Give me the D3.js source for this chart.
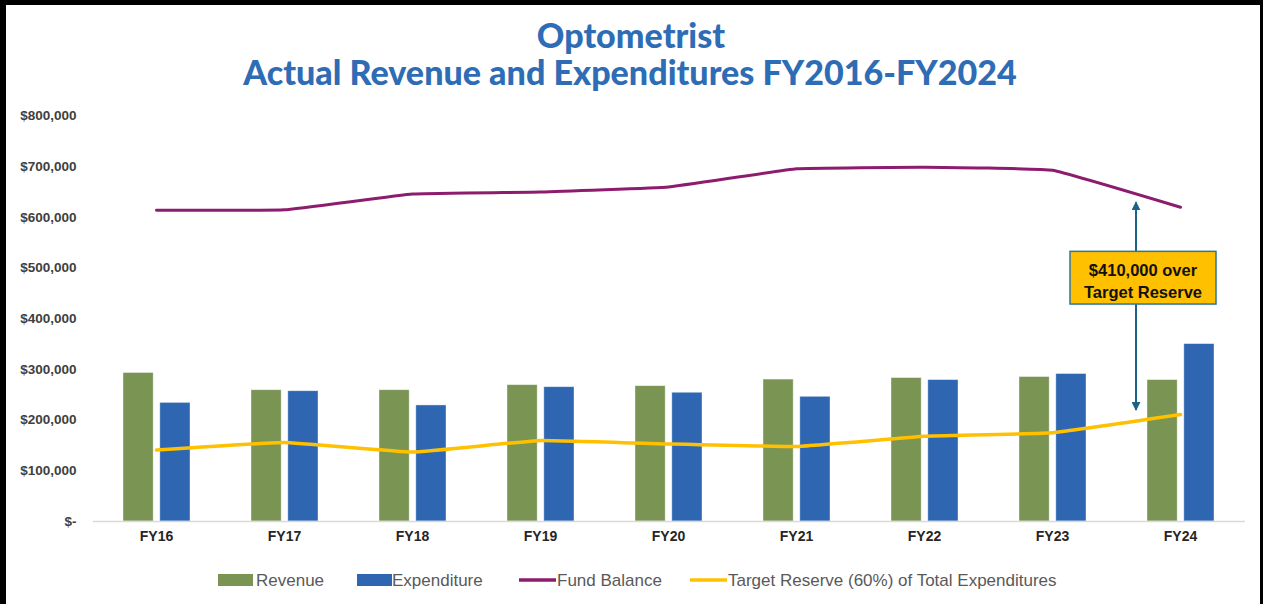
<!DOCTYPE html>
<html>
<head>
<meta charset="utf-8">
<script src="https://cdn.jsdelivr.net/npm/d3@7"></script>
<style>
  body { margin: 0; background: #000; overflow: hidden; }
  svg { display: block; }
</style>
</head>
<body>
<svg></svg>
<script>
// values
const years = ['FY16', 'FY17', 'FY18', 'FY19', 'FY20', 'FY21', 'FY22', 'FY23', 'FY24']
const revenue = [293000, 259000, 259000, 269000, 267000, 280000, 283000, 285000, 279000]
const expenditure = [234000, 257000, 229000, 265000, 254000, 246000, 279000, 291000, 350000]
const fundBalance = [613000, 614000, 645000, 649000, 659000, 695000, 698000, 692000, 619000]
const targetReserve = [140000, 155000, 136000, 159000, 152000, 147000, 167000, 174000, 210000]
const yTicks = [0, 100000, 200000, 300000, 400000, 500000, 600000, 700000, 800000]
const legendItems = ['Revenue', 'Expenditure', 'Fund Balance', 'Target Reserve (60%) of Total Expenditures']
const annotationLines = ['$410,000 over', 'Target Reserve']

const W = 1263, H = 604
const colors = {
    Revenue: '#7A9453',
    Expenditure: '#2E66B2',
    'Fund Balance': '#8E1C6E',
    'Target Reserve (60%) of Total Expenditures': '#FFC000'
}

const svg = d3.select('svg').attr('width', W).attr('height', H)

// black frame, white page
svg.append('rect').attr('width', W).attr('height', H).attr('fill', '#000')
svg.append('rect')
    .attr('x', 6).attr('y', 5)
    .attr('width', 1254).attr('height', H - 5)
    .attr('fill', '#fff')

const x = d3.scaleBand()
    .domain(years)
    .range([92.5, 1244.5])

const y = d3.scaleLinear()
    .domain([0, 800000])
    .range([521, 115.5])

const sub = d3.scaleBand()
    .domain(['Revenue', 'Expenditure'])
    .range([30.5, 97.5])
    .paddingInner(0.18)

const rows = years.map((yr, i) => ({
    year: yr,
    revenue: revenue[i],
    expenditure: expenditure[i],
    fund: fundBalance[i],
    target: targetReserve[i]
}))

// title
const title = svg.append('g')
    .attr('fill', '#2E6DB5')
    .style('font-family', 'Lato, "Open Sans", sans-serif')
    .style('font-weight', 900)
    .attr('text-anchor', 'middle')

const t1 = title.append('text').attr('x', 631).attr('y', 48).text('Optometrist')
const t2 = title.append('text').attr('x', 630).attr('y', 85)
    .text('Actual Revenue and Expenditures FY2016-FY2024')
t2.style('font-size', '29px')
const fs = 29 * 774 / t2.node().getComputedTextLength()
t1.style('font-size', fs + 'px')
t2.style('font-size', fs + 'px')

// y axis
svg.append('g')
    .attr('transform', `translate(${x.range()[0]},0)`)
    .call(d3.axisLeft(y)
        .tickValues(yTicks)
        .tickSize(0)
        .tickPadding(16)
        .tickFormat(d => d === 0 ? '$-' : '$' + d3.format(',')(d)))
    .call(g => g.select('.domain').remove())
    .selectAll('text')
        .attr('fill', '#404040')
        .style('font-family', '"Liberation Sans", Arial, sans-serif')
        .style('font-weight', 700)
        .style('font-size', '13.5px')

// bars
const groups = svg.append('g')
    .selectAll('g')
    .data(rows)
    .join('g')
        .attr('transform', d => `translate(${x(d.year)},0)`)

groups.append('rect')
    .attr('x', sub('Revenue'))
    .attr('width', sub.bandwidth())
    .attr('y', d => y(d.revenue))
    .attr('height', d => y(0) - y(d.revenue))
    .attr('fill', colors.Revenue)
    .attr('stroke', '#fff')
    .attr('stroke-opacity', 0.5)
    .attr('stroke-width', 0.8)

groups.append('rect')
    .attr('x', sub('Expenditure'))
    .attr('width', sub.bandwidth())
    .attr('y', d => y(d.expenditure))
    .attr('height', d => y(0) - y(d.expenditure))
    .attr('fill', colors.Expenditure)
    .attr('stroke', '#fff')
    .attr('stroke-opacity', 0.5)
    .attr('stroke-width', 0.8)

// x axis
svg.append('g')
    .attr('transform', `translate(0,${y(0)})`)
    .call(d3.axisBottom(x).tickSize(0).tickSizeOuter(0).tickPadding(10))
    .call(g => g.select('.domain').attr('stroke', '#D9D9D9').attr('stroke-width', 1.3))
    .selectAll('text')
        .attr('fill', '#262626')
        .style('font-family', '"Liberation Sans", Arial, sans-serif')
        .style('font-weight', 700)
        .style('font-size', '14px')

// lines
const cx = d => x(d.year) + x.bandwidth() / 2
const smooth = d3.curveCardinal.tension(0.75)

svg.append('path')
    .datum(rows)
    .attr('fill', 'none')
    .attr('stroke', colors['Fund Balance'])
    .attr('stroke-width', 3)
    .attr('stroke-linejoin', 'round')
    .attr('stroke-linecap', 'round')
    .attr('d', d3.line().x(cx).y(d => y(d.fund)).curve(smooth))

svg.append('path')
    .datum(rows)
    .attr('fill', 'none')
    .attr('stroke', colors['Target Reserve (60%) of Total Expenditures'])
    .attr('stroke-width', 3.5)
    .attr('stroke-linejoin', 'round')
    .attr('stroke-linecap', 'round')
    .attr('d', d3.line().x(cx).y(d => y(d.target)).curve(smooth))

// annotation: arrow between fund balance and target reserve
const arrowColor = '#1C6487'
const defs = svg.append('defs')
defs.append('marker')
    .attr('id', 'head')
    .attr('viewBox', '0 0 10 10')
    .attr('refX', 9).attr('refY', 5)
    .attr('markerWidth', 4.5).attr('markerHeight', 4.5)
    .attr('orient', 'auto-start-reverse')
    .append('path')
        .attr('d', 'M0,0 L10,5 L0,10 z')
        .attr('fill', arrowColor)

const ax = cx(rows[8]) - 44.5
svg.append('line')
    .attr('x1', ax).attr('x2', ax)
    .attr('y1', y(629000)).attr('y2', y(219000))
    .attr('stroke', arrowColor)
    .attr('stroke-width', 2)
    .attr('marker-start', 'url(#head)')
    .attr('marker-end', 'url(#head)')

const boxX = cx(rows[8]) - 110.5
svg.append('rect')
    .attr('x', boxX).attr('width', 146)
    .attr('y', y(532000)).attr('height', y(428000) - y(532000))
    .attr('fill', '#FFC000')
    .attr('stroke', '#2E75A0')
    .attr('stroke-width', 1.5)

svg.append('g')
    .attr('text-anchor', 'middle')
    .style('font-family', '"Liberation Sans", Arial, sans-serif')
    .style('font-weight', 700)
    .style('font-size', '16.5px')
    .attr('fill', '#111')
    .selectAll('text')
    .data(annotationLines)
    .join('text')
        .attr('x', boxX + 73)
        .attr('y', (d, i) => 276 + i * 22)
        .text(d => d)

// legend
const legendX = [218, 357, 519, 690]
const legend = svg.append('g')
    .selectAll('g')
    .data(legendItems)
    .join('g')
        .attr('transform', (d, i) => `translate(${legendX[i]},580)`)

legend.filter((d, i) => i < 2).append('rect')
    .attr('x', 0).attr('y', -6)
    .attr('width', 35).attr('height', 12)
    .attr('fill', d => colors[d])

legend.filter((d, i) => i >= 2).append('line')
    .attr('x1', 0).attr('x2', 37)
    .attr('stroke', d => colors[d])
    .attr('stroke-width', 3.5)

legend.append('text')
    .attr('x', (d, i) => i === 1 ? 35 : 38)
    .attr('dy', '0.35em')
    .attr('fill', '#595959')
    .style('font-family', '"Liberation Sans", Arial, sans-serif')
    .style('font-size', '17px')
    .text(d => d)
</script>
</body>
</html>
